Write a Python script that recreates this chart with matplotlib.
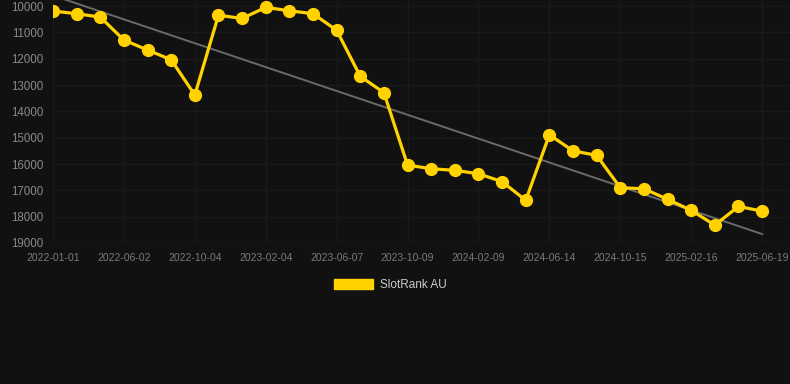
import numpy as np
import matplotlib
matplotlib.use("Agg")
import matplotlib.pyplot as plt
from matplotlib.patches import Patch

plt.rcParams['font.family'] = ['Liberation Sans', 'DejaVu Sans']

# rank values, one per sample (lower number = better rank, axis inverted)
ranks = [10190, 10290, 10420, 11290, 11670, 12040, 13380, 10350, 10470,
         10050, 10180, 10290, 10920, 12670, 13290,
         16040, 16180, 16240, 16370, 16670, 17380,
         14890, 15500, 15670, 16900, 16940, 17340, 17760, 18320, 17610, 17790]
tick_labels = ['2022-01-01', '2022-06-02', '2022-10-04', '2023-02-04', '2023-06-07',
               '2023-10-09', '2024-02-09', '2024-06-14', '2024-10-15', '2025-02-16',
               '2025-06-19']
y_ticks = [10000, 11000, 12000, 13000, 14000, 15000, 16000, 17000, 18000, 19000]
# trend line end values (first and last sample)
trend_ends = [9600, 18660]

bg = '#111111'
yellow = '#FFD200'

x = np.arange(len(ranks))
fig = plt.figure(figsize=(7.9, 3.84), dpi=100, facecolor=bg)
ax = fig.add_axes([53 / 790, 1 - 243 / 384, 737 / 790, 243 / 384])
ax.set_facecolor(bg)

ax.plot([x[0], x[-1]], trend_ends, color='#6a6a6a', lw=1.4, zorder=2)
ax.plot(x, ranks, color=yellow, lw=2.3, marker='o', ms=8.5, zorder=3)

ax.set_ylim(19000, 9770)
ax.set_xlim(0, 31.18)
ax.set_yticks(y_ticks)
ax.set_xticks(x[::3])
ax.set_xticklabels(tick_labels)
ax.grid(True, color='#1a1a1a', lw=1)
ax.set_axisbelow(True)
for s in ax.spines.values():
    s.set_visible(False)
ax.axhline(19000, color='#262626', lw=1, zorder=1)
ax.tick_params(axis='x', colors='#7a7a7a', labelsize=7.5, length=0, pad=7)
ax.tick_params(axis='y', colors='#8a8a8a', labelsize=8.3, length=0, pad=7)

fig.legend(handles=[Patch(color=yellow, label='SlotRank AU')], loc='center',
           bbox_to_anchor=(0.494, 0.258), frameon=False, labelcolor='#cccccc',
           fontsize=8.5, handlelength=3.3, handleheight=0.9, handletextpad=0.6)

fig.savefig('out.png', dpi=100, facecolor=bg)
